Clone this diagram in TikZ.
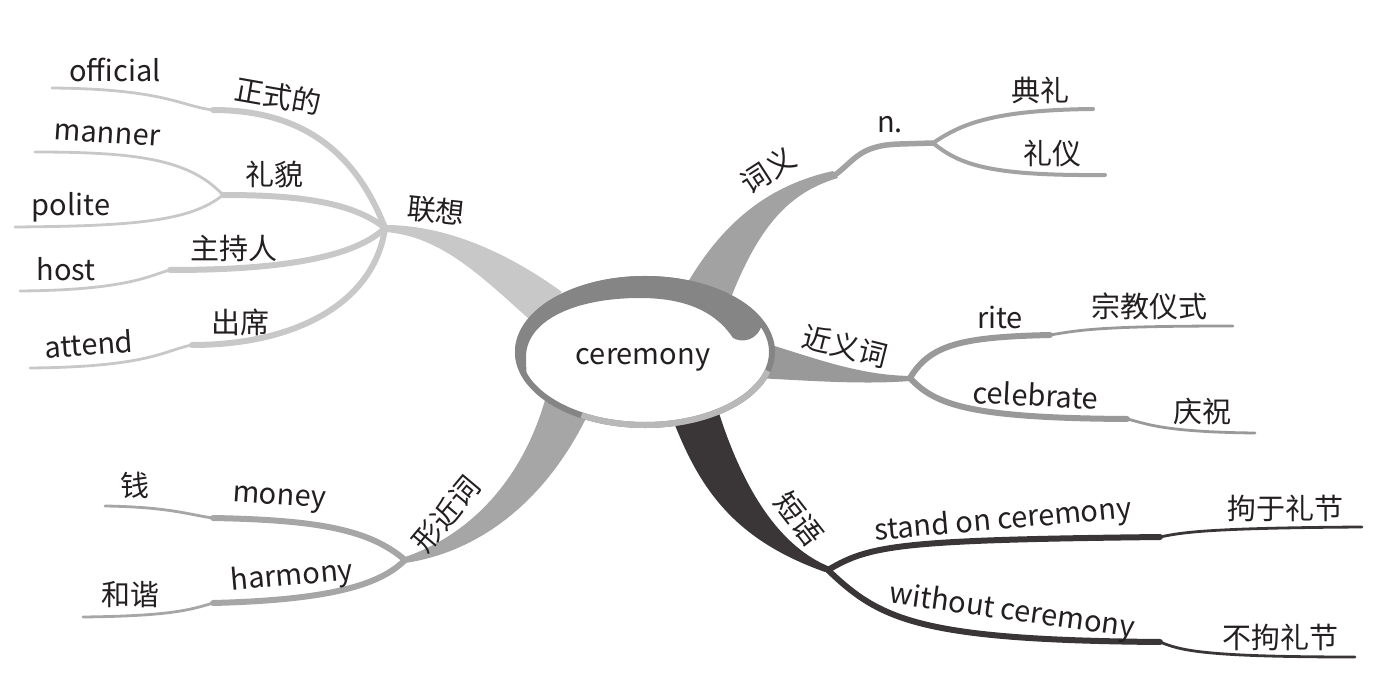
\documentclass[tikz,border=0pt]{standalone}
\usepackage{fontspec}
\setmainfont{Noto Sans CJK SC}
\usetikzlibrary{calc}
\definecolor{cA}{HTML}{C8C8C8}
\definecolor{cB}{HTML}{A2A2A2}
\definecolor{cC}{HTML}{999999}
\definecolor{cD}{HTML}{3A3637}
\definecolor{cE}{HTML}{A6A6A6}
\definecolor{ring}{HTML}{858585}
\definecolor{ringlt}{HTML}{B8B8B8}
\definecolor{ink}{HTML}{231F20}
\begin{document}
\begin{tikzpicture}[x=1pt,y=-1pt,
  lbl/.style={text=ink,font=\fontsize{29}{34}\selectfont,inner sep=0pt},
  thk/.style={line width=6pt,line cap=round},
  thn/.style={line width=2.8pt,line cap=round},
]
\useasboundingbox (0,0) rectangle (1393,682);
% ---------- coordinates ----------
\coordinate (C) at (645,352);
\coordinate (H1) at (385,228);
\coordinate (Kof) at (213,110); \coordinate (Eof) at (52,88);
\coordinate (Klm) at (223,195); \coordinate (Ema) at (35,152); \coordinate (Epo) at (15,227);
\coordinate (Kho) at (170,270); \coordinate (Eho) at (20,291);
\coordinate (Kat) at (192,345); \coordinate (Eat) at (30,368);
\coordinate (K1) at (835,175); \coordinate (HN) at (933,143);
\coordinate (Ed1) at (1093,109); \coordinate (Ed2) at (1105,175);
\coordinate (HS) at (910,378);
\coordinate (Kri) at (1050,335); \coordinate (Eri) at (1233,326);
\coordinate (Kce) at (1127,419); \coordinate (Ece) at (1255,433);
\coordinate (HP) at (828,570);
\coordinate (Kst) at (1160,537); \coordinate (Est) at (1362,527);
\coordinate (Kwi) at (1160,642); \coordinate (Ewi) at (1355,657);
\coordinate (HX) at (405,560);
\coordinate (Kmo) at (213,518); \coordinate (Emo) at (105,506);
\coordinate (Kha) at (213,603); \coordinate (Eha) at (83,617);
% ---------- trunks ----------
\fill[cA] ($(H1)+(0,-3)$) .. controls (430,225) and (490,240) .. (562,292)
  -- (530,320) .. controls (480,275) and (440,236) .. ($(H1)+(0,4)$) -- cycle;
\fill[cB] (688,282) .. controls (725,220) and (770,185) .. ($(K1)+(-2,-4)$)
  -- ($(K1)+(3,3)$) .. controls (790,192) and (760,225) .. (732,295) -- cycle;
\fill[cC] (765,343) .. controls (820,360) and (860,375) .. ($(HS)+(0,-2)$)
  -- ($(HS)+(0,3)$) .. controls (860,385) and (800,380) .. (755,378) -- cycle;
\fill[cD] (673,420) .. controls (700,490) and (735,540) .. ($(HP)+(-3,2)$)
  -- ($(HP)+(2,-3)$) .. controls (775,545) and (740,480) .. (718,410) -- cycle;
\fill[cE] (545,400) .. controls (522,480) and (470,535) .. ($(HX)+(0,-3)$)
  -- ($(HX)+(0,3)$) .. controls (480,552) and (548,500) .. (590,410) -- cycle;
% ---------- 联想 sub-branches ----------
\draw[cA,thk] (H1) .. controls (355,150) and (300,110) .. (Kof);
\draw[cA,thn] (Kof) .. controls (180,106) and (165,89) .. (Eof);
\draw[cA,thk] (H1) .. controls (350,200) and (290,195) .. (Klm);
\draw[cA,thn] (Klm) .. controls (190,160) and (140,152) .. (Ema);
\draw[cA,thn] (Klm) .. controls (190,222) and (130,226) .. (Epo);
\draw[cA,thk] (H1) .. controls (350,262) and (260,270) .. (Kho);
\draw[cA,thn] (Kho) .. controls (150,275) and (130,290) .. (Eho);
\draw[cA,thk] (H1) .. controls (375,300) and (300,345) .. (Kat);
\draw[cA,thn] (Kat) .. controls (165,350) and (150,367) .. (Eat);
% ---------- 词义 ----------
\draw[cB,line width=5.5pt] (K1) .. controls (855,160) and (860,145) .. (900,144) -- (HN);
\draw[cB,line width=4pt,line cap=round] (HN) .. controls (960,125) and (990,110) .. (Ed1);
\draw[cB,line width=4pt,line cap=round] (HN) .. controls (960,165) and (990,176) .. (Ed2);
% ---------- 近义词 ----------
\draw[cC,thk] (HS) .. controls (930,345) and (960,337) .. (Kri);
\draw[cC,thn] (Kri) .. controls (1080,330) and (1100,326) .. (Eri);
\draw[cC,thk] (HS) .. controls (935,405) and (970,418) .. (Kce);
\draw[cC,thn] (Kce) .. controls (1145,423) and (1160,432) .. (Ece);
% ---------- 短语 ----------
\draw[cD,thk] (HP) .. controls (870,545) and (900,540) .. (Kst);
\draw[cD,thn] (Kst) .. controls (1180,533) and (1200,528) .. (Est);
\draw[cD,thk] (HP) .. controls (880,620) and (920,640) .. (Kwi);
\draw[cD,thn] (Kwi) .. controls (1180,650) and (1200,657) .. (Ewi);
% ---------- 形近词 ----------
\draw[cE,thk] (HX) .. controls (370,530) and (320,520) .. (Kmo);
\draw[cE,thn] (Kmo) .. controls (190,515) and (170,507) .. (Emo);
\draw[cE,thk] (HX) .. controls (380,585) and (330,600) .. (Kha);
\draw[cE,thn] (Kha) .. controls (190,610) and (170,616) .. (Eha);
% ---------- centre ----------
\fill[white, draw=ring, line width=6pt] (C) ellipse [x radius=127, y radius=73];
\draw[ringlt, line width=6pt] (767.7,370.9) arc[start angle=15, end angle=120, x radius=127, y radius=73];
\fill[ring] (527.2,384.1) arc[start angle=155, end angle=330, x radius=130, y radius=76]
  .. controls (770,325) and (752,348) .. (733,338)
  .. controls (712,306) and (675,298) .. (640,298)
  .. controls (575,298) and (528,320) .. (526,355)
  .. controls (526,370) and (527,378) .. (527.2,384.1) -- cycle;
\node[lbl] (ceremony) at (643,360) {ceremony};
% ---------- labels ----------
\node[lbl,rotate=-6] (lianxiang) at (436,211) {联想};
\node[lbl] (official) at (115,70) {official};
\node[lbl,rotate=-10] (zhengshi) at (278,96) {正式的};
\node[lbl,rotate=-4] (manner) at (107,135) {manner};
\node[lbl] (limao) at (274,174) {礼貌};
\node[lbl] (polite) at (71,207) {polite};
\node[lbl] (zhuchi) at (234,248) {主持人};
\node[lbl] (host) at (66,269) {host};
\node[lbl] (chuxi) at (240,322) {出席};
\node[lbl,rotate=4] (attend) at (89,344) {attend};
\node[lbl,rotate=33] (ciyi) at (768,170) {词义};
\node[lbl] (n) at (890,125) {n.};
\node[lbl] (dianli) at (1040,90) {典礼};
\node[lbl] (liyi) at (1052,153) {礼仪};
\node[lbl,rotate=-14] (jinyi) at (845,346) {近义词};
\node[lbl] (rite) at (1000,317) {rite};
\node[lbl] (zongjiao) at (1149,306) {宗教仪式};
\node[lbl,rotate=-3] (celebrate) at (1036,395) {celebrate};
\node[lbl] (qingzhu) at (1202,411) {庆祝};
\node[lbl,rotate=-52] (duanyu) at (799,519) {短语};
\node[lbl,rotate=5] (stand) at (1003,521) {stand on ceremony};
\node[lbl] (juyu) at (1285,508) {拘于礼节};
\node[lbl,rotate=-8] (without) at (1012,612) {without ceremony};
\node[lbl] (buju) at (1280,637) {不拘礼节};
\node[lbl,rotate=50] (xingjin) at (446,514) {形近词};
\node[lbl] (qian) at (135,485) {钱};
\node[lbl,rotate=-4] (money) at (279,500) {money};
\node[lbl] (hexie) at (130,595) {和谐};
\node[lbl,rotate=5] (harmony) at (292,577) {harmony};
\end{tikzpicture}
\end{document}
